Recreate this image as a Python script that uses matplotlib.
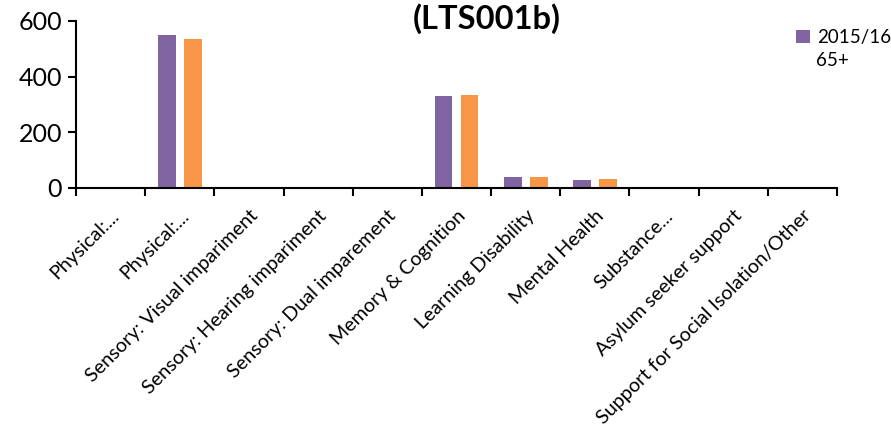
import matplotlib
matplotlib.use("Agg")
import matplotlib.pyplot as plt
import matplotlib.transforms as mtransforms
import numpy as np

# Service-need categories (LTS001b), counts for two series
categories = [
    "Physical:...",
    "Physical:...",
    "Sensory: Visual impariment",
    "Sensory: Hearing impariment",
    "Sensory: Dual imparement",
    "Memory & Cognition",
    "Learning Disability",
    "Mental Health",
    "Substance...",
    "Asylum seeker support",
    "Support for Social Isolation/Other",
]
series_2015 = [0, 550, 0, 2, 0, 329, 40, 28, 0, 0, 0]
series_other = [0, 534, 0, 1, 0, 334, 40, 32, 0, 0, 0]
series_years = ["2015/16", "2016/17"]
series_age = "65+"
yticks = [0, 200, 400, 600]

plt.rcParams["font.family"] = ["Lato", "DejaVu Sans"]

fig = plt.figure(figsize=(8.91, 4.28), dpi=100)
ax = fig.add_axes([76 / 891, 1 - 188 / 428, (837 - 76) / 891, (188 - 21) / 428])

x = np.arange(len(categories))
w = 0.26
ax.bar(x - 0.188, series_2015, w, color="#8064A2")
ax.bar(x + 0.188, series_other, w, color="#F79646")

ax.set_xlim(-0.5, len(categories) - 0.5)
ax.set_ylim(0, 600)
ax.set_yticks(yticks)
ax.tick_params(axis="y", labelsize=18, length=6, width=1.5, direction="out", pad=4)
ax.set_xticks(np.arange(len(categories) + 1) - 0.5, minor=True)
ax.set_xticks(x)
ax.set_xticklabels(categories, rotation=45, ha="right", va="center",
                   rotation_mode="anchor", fontsize=14.2)
ax.tick_params(axis="x", which="major", length=0, pad=18)
ax.tick_params(axis="x", which="minor", length=6, width=1.5, direction="out")
shift = mtransforms.ScaledTranslation(6 / 100, 0, fig.dpi_scale_trans)
for lbl in ax.get_xticklabels():
    lbl.set_transform(lbl.get_transform() + shift)
for s in ["top", "right"]:
    ax.spines[s].set_visible(False)
ax.spines["left"].set_linewidth(1.5)
ax.spines["bottom"].set_linewidth(1.5)

fig.text(487 / 891, 1 - 19 / 428, "(LTS001b)", ha="center", va="center",
         fontsize=23.5, fontweight="bold")

# only the first legend entry fits in the visible area
leg = fig.legend(handles=ax.containers[:1], labels=series_years[:1],
                 loc="upper left", bbox_to_anchor=(796 / 891, 1 - 29 / 428),
                 frameon=False, fontsize=13.5, handlelength=0.75, handleheight=0.75,
                 handletextpad=0.4, borderpad=0, borderaxespad=0)
fig.text(816 / 891, 1 - 61 / 428, series_age, ha="left", va="center", fontsize=13.5)

fig.savefig("out.png", dpi=100)
